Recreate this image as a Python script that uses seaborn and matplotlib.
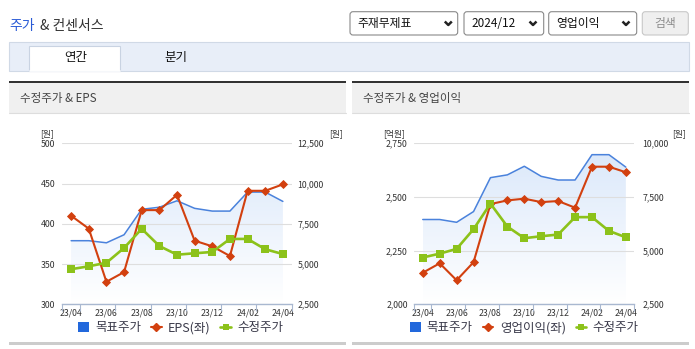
import numpy as np
import matplotlib
matplotlib.use('Agg')
import matplotlib.pyplot as plt
import seaborn as sns
from matplotlib.patches import Rectangle, FancyBboxPatch, Patch
from matplotlib.lines import Line2D
from matplotlib.colors import LinearSegmentedColormap

# ---------------- data ----------------
periods = ["23/04", "23/05", "23/06", "23/07", "23/08", "23/09", "23/10",
           "23/11", "23/12", "24/01", "24/02", "24/03", "24/04"]
target_price = [6450, 6450, 6320, 6820, 8400, 8530, 8930, 8460, 8290, 8290, 9470, 9470, 8890]
adj_price = [4680, 4860, 5080, 6000, 7190, 6120, 5580, 5670, 5750, 6560, 6560, 5920, 5620]
eps = [410, 394, 328, 340, 417, 417, 436, 379, 372, 360, 441, 441, 449]
op_profit = [2147, 2191, 2112, 2196, 2467, 2484, 2492, 2476, 2481, 2450, 2641, 2641, 2615]

eps_ticks = [300, 350, 400, 450, 500]
price_ticks_1 = [2500, 5000, 7500, 10000, 12500]
op_ticks = [2000, 2250, 2500, 2750]
price_ticks_2 = [2500, 5000, 7500, 10000]

legend_labels_1 = ["목표주가", "EPS(좌)", "수정주가"]
legend_labels_2 = ["목표주가", "영업이익(좌)", "수정주가"]

# ---------------- style ----------------
sns.set_style("white")
plt.rcParams['font.family'] = ['Noto Sans CJK KR', 'DejaVu Sans']

RED = "#d2400f"
GREEN = "#8cc21a"
BLUE_LINE = "#4a82dc"
BLUE_SQ = "#2268dc"
AXC = "#a9b8d0"
TXT = "#333333"

W, H = 695, 349
fig = plt.figure(figsize=(W / 100, H / 100), dpi=100)
fig.patch.set_facecolor("white")
bg = fig.add_axes([0, 0, 1, 1], zorder=-10)
bg.set_xlim(0, W)
bg.set_ylim(H, 0)
bg.axis('off')


def rect(x0, y0, x1, y1, **kw):
    bg.add_patch(Rectangle((x0, y0), x1 - x0, y1 - y0, **kw))


# title
bg.text(9.5, 26, "주가", color="#2a5bd6", fontsize=10, va='center', ha='left')
bg.text(40.5, 26, "& 컨센서스", color="#333333", fontsize=10, va='center', ha='left')

# dropdowns
for x0, x1, label, chev in [(350, 457.7, "주재무제표", 448.3),
                            (464, 543.7, "2024/12", 533),
                            (548.7, 636.7, "영업이익", 626)]:
    bg.add_patch(FancyBboxPatch((x0, 11.7), x1 - x0, 23.3,
                                boxstyle="round,pad=0,rounding_size=3",
                                fc='white', ec='#8a8a8a', lw=0.8))
    bg.text(x0 + 7.5, 23.5, label, fontsize=8.5, color='#111111', va='center', ha='left')
    bg.plot([chev - 3.5, chev, chev + 3.5], [21.5, 25, 21.5], color='#222222', lw=1.8,
            solid_capstyle='butt')
bg.add_patch(FancyBboxPatch((642.3, 11.7), 46, 23.3, boxstyle="round,pad=0,rounding_size=3",
                            fc='#efefef', ec='#c8c8c8', lw=0.8))
bg.text(665.3, 23.5, "검색", fontsize=8.5, color='#8c8c8c', va='center', ha='center')

# tabs
rect(9, 42, 689, 70.7, fc='#e8eef8', ec='#d0d9e6', lw=0.8)
rect(29.3, 46, 120.3, 71.2, fc='white', ec='#c9d3e2', lw=0.8)
bg.plot([29.8, 119.8], [71, 71], color='white', lw=1.2)
bg.text(75.8, 58, "연간", fontsize=9, color='#111111', va='center', ha='center')
bg.text(175.8, 58, "분기", fontsize=9, color='#111111', va='center', ha='center')

# panels
for x0, x1, title in [(9, 346, "수정주가 & EPS"), (352, 689, "수정주가 & 영업이익")]:
    rect(x0, 83, x1, 112.5, fc='#f0f0f0', ec='none')
    bg.plot([x0, x1], [112.5, 112.5], color='#dddddd', lw=0.8)
    rect(x0, 80.7, x1, 83, fc='#333333', ec='none')
    bg.text(x0 + 11, 98.5, title, fontsize=8.3, color='#444444', va='center', ha='left')
    rect(x0, 342, x1, 344.6, fc='#cccccc', ec='none')


def draw_chart(px0, px1, left_vals, left_ticks, right_ticks, left_unit, lu_x, ru_x,
               labels, legend_cx, lpad, rpad):
    py0, py1 = 143.3, 304.3
    axP = fig.add_axes([px0 / W, 1 - py1 / H, (px1 - px0) / W, (py1 - py0) / H])
    axP.patch.set_alpha(0)
    x = np.arange(len(periods))
    ylo, yhi = right_ticks[0], right_ticks[-1]

    # gradient area under target price
    poly = axP.fill_between(x, target_price, ylo, facecolor='none', edgecolor='none')
    cmap = LinearSegmentedColormap.from_list('g', ['#ffffff', '#d9e7fa'])
    grad = np.linspace(0, 1, 256).reshape(-1, 1)
    im = axP.imshow(grad, extent=[x[0], x[-1], ylo, yhi], origin='lower', aspect='auto',
                    cmap=cmap, zorder=0.2)
    im.set_clip_path(poly.get_paths()[0], transform=axP.transData)
    sns.lineplot(x=x, y=target_price, ax=axP, color=BLUE_LINE, linewidth=1.1, zorder=3)

    axE = axP.twinx()
    sns.lineplot(x=x, y=left_vals, ax=axE, color=RED, linewidth=1.5, marker='D',
                 markersize=4.2, markeredgecolor=RED, markeredgewidth=0.6, zorder=3)
    axG = axP.twinx()
    sns.lineplot(x=x, y=adj_price, ax=axG, color=GREEN, linewidth=1.9, marker='s',
                 markersize=5.6, markeredgewidth=0, zorder=3)

    for ax in (axP, axE, axG):
        ax.set_xlim(-0.5, len(periods) - 0.5)
        ax.set_xlabel('')
        ax.set_ylabel('')
        for s in ax.spines.values():
            s.set_visible(False)

    axP.set_ylim(ylo, yhi)
    axG.set_ylim(ylo, yhi)
    axG.set_yticks([])
    axE.set_ylim(left_ticks[0], left_ticks[-1])

    axP.set_yticks(right_ticks)
    axP.set_yticklabels([f"{v:,}" for v in right_ticks])
    axP.yaxis.tick_right()
    axP.tick_params(axis='y', length=0, pad=rpad, labelsize=6.3, labelcolor=TXT)
    axP.grid(axis='y', color='#dedede', lw=0.8)
    axP.grid(axis='x', visible=False)
    axP.set_axisbelow(True)

    axE.yaxis.tick_left()
    axE.set_yticks(left_ticks)
    axE.set_yticklabels([f"{v:,}" for v in left_ticks])
    axE.tick_params(axis='y', length=0, pad=lpad, labelsize=6.3, labelcolor=TXT)

    axP.set_xticks(x[::2])
    axP.set_xticklabels(periods[::2])
    axP.set_xticks([-0.5] + list(np.arange(0.5, len(periods) - 2, 2)) + [len(periods) - 0.5],
                   minor=True)
    axP.tick_params(axis='x', which='major', length=0, pad=3.0, labelsize=6.3, labelcolor=TXT)
    axP.tick_params(axis='x', which='minor', length=5, width=0.8, color=AXC, bottom=True)
    axP.spines['bottom'].set_visible(True)
    axP.spines['bottom'].set_color(AXC)
    axP.spines['bottom'].set_linewidth(1.0)

    # units
    bg.text(lu_x, 134, left_unit, fontsize=6.3, color=TXT, va='center', ha='left')
    bg.text(ru_x, 134, "[원]", fontsize=6.3, color=TXT, va='center', ha='left')

    handles = [Patch(fc=BLUE_SQ, ec='none'),
               Line2D([], [], color=RED, lw=1.5, marker='D', markersize=4,
                      markeredgecolor=RED),
               Line2D([], [], color=GREEN, lw=1.9, marker='s', markersize=5,
                      markeredgewidth=0)]
    fig.legend(handles, labels, loc='center', bbox_to_anchor=(legend_cx / W, 1 - 328 / H),
               bbox_transform=fig.transFigure, ncol=3, frameon=False, fontsize=9,
               handlelength=0.85, handleheight=0.85, handletextpad=0.5, columnspacing=0.8,
               borderpad=0, labelcolor='#3a3a4a')


draw_chart(62.3, 291.7, eps, eps_ticks, price_ticks_1, "[원]", 40, 329,
           legend_labels_1, 180.7, 5.2, 4.3)
draw_chart(414.3, 634.3, op_profit, op_ticks, price_ticks_2, "[억원]", 382.7, 671.7,
           legend_labels_2, 524.3, 4.8, 6.0)

fig.savefig("out.png", dpi=100, facecolor='white')
